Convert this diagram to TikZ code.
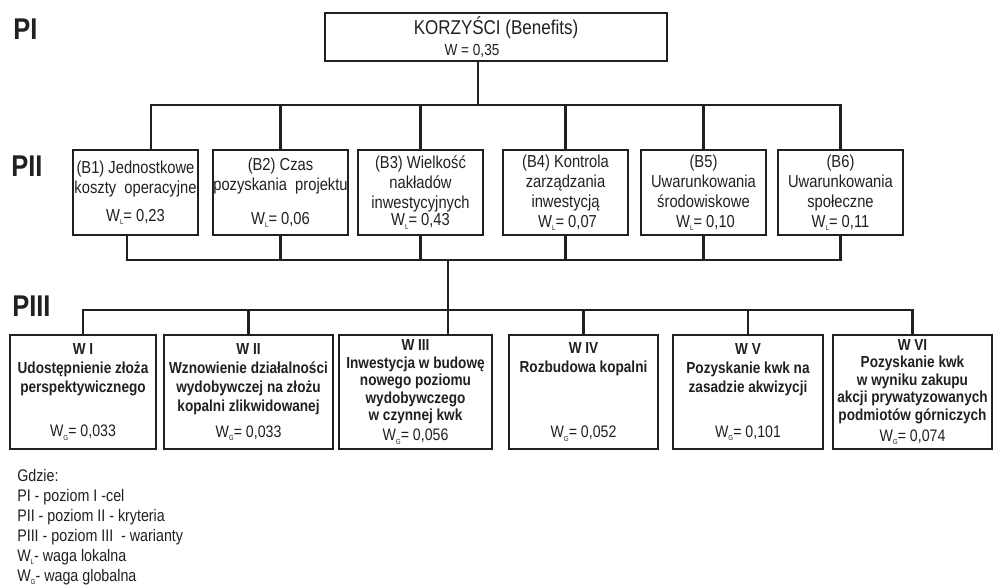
\documentclass[tikz,border=0pt]{standalone}
\usepackage{fontspec}
\setmainfont{Liberation Sans}[FakeStretch=0.85]
\usetikzlibrary{positioning}
\definecolor{ink}{RGB}{35,31,32}
\newcommand{\wsub}[1]{W\raisebox{-2.5pt}{\fontsize{5.5}{6}\selectfont #1}}

\begin{document}
\begin{tikzpicture}[x=0.75pt, y=-0.75pt, every node/.style={text=ink, inner sep=0pt},
  goal/.style={draw=ink, line width=1.5pt, align=center, minimum width=256.5pt, minimum height=36pt},
  crit/.style={draw=ink, line width=1.5pt, align=center, minimum width=93.75pt, minimum height=63.75pt,
    font=\fontsize{13}{15}\selectfont},
  vari/.style={draw=ink, line width=1.5pt, align=center, minimum height=85.5pt,
    font=\bfseries\fontsize{12}{14.25}\selectfont},
  level/.style={anchor=west, font=\bfseries\fontsize{22.5}{24}\selectfont},
  conn/.style={draw=ink, line width=2pt}
]
\useasboundingbox (0,0) rectangle (993,587);
\node[level] (lvl1) at (13,29) {PI};
\node[level] (lvl2) at (11,166) {PII};
\node[level] (lvl3) at (12,306) {PIII};
\node[goal, font=\fontsize{12}{15.5}\selectfont] (goal) at (496,37)
  {{\fontsize{15}{15}\selectfont KORZYŚCI (Benefits)}\\W = 0,35\hspace*{36pt}};
\node[crit] (b1) at (135.5,192.5) {(B1) Jednostkowe\\koszty\ \ operacyjne\\[6pt]\wsub{L}= 0,23};
\node[crit] (b2) at (280.5,192.5) {(B2) Czas\\pozyskania\ \ projektu\\[10.5pt]\wsub{L}= 0,06};
\node[crit] (b3) at (420.5,192.5) {(B3) Wielkość\\nakładów\\inwestycyjnych\\[-2.25pt]\wsub{L}= 0,43};
\node[crit] (b4) at (565.5,192.5) {(B4) Kontrola\\zarządzania\\inwestycją\\\ \wsub{L}= 0,07};
\node[crit] (b5) at (703.5,192.5) {(B5)\\Uwarunkowania\\środowiskowe\\\ \wsub{L}= 0,10};
\node[crit] (b6) at (840.5,192.5) {(B6)\\Uwarunkowania\\społeczne\\\wsub{L}= 0,11};
\node[vari, minimum width=109.5pt] (w1) at (83,392)
  {W I\\Udostępnienie złoża\\perspektywicznego\\[18.75pt]\mdseries\fontsize{12.5}{14.25}\selectfont\wsub{G}= 0,033};
\node[vari, minimum width=126.75pt] (w2) at (248.5,392)
  {W II\\Wznowienie działalności\\wydobywczej na złożu\\kopalni zlikwidowanej\\[5.25pt]\mdseries\fontsize{12.5}{14.25}\selectfont\wsub{G}= 0,033};
\node[vari, minimum width=114.75pt, font=\bfseries\fontsize{12}{13.1}\selectfont] (w3) at (415.5,392)
  {W III\\Inwestycja w budowę\\nowego poziomu\\wydobywczego\\w czynnej kwk\\[1.9pt]\mdseries\fontsize{12.5}{13.1}\selectfont\wsub{G}= 0,056};
\node[vari, minimum width=111.75pt] (w4) at (583.5,392)
  {W IV\\Rozbudowa kopalni\\[34.5pt]\mdseries\fontsize{12.5}{14.25}\selectfont\wsub{G}= 0,052};
\node[vari, minimum width=112.5pt] (w5) at (748,392)
  {W V\\Pozyskanie kwk na\\zasadzie akwizycji\\[19.5pt]\mdseries\fontsize{12.5}{14.25}\selectfont\wsub{G}= 0,101};
\node[vari, minimum width=119.25pt, font=\bfseries\fontsize{12}{13.1}\selectfont] (w6) at (912.5,392)
  {W VI\\Pozyskanie kwk\\w wyniku zakupu\\akcji prywatyzowanych\\podmiotów górniczych\\[2.6pt]\mdseries\fontsize{12.5}{13.1}\selectfont\wsub{G}= 0,074};
\node[anchor=north west, align=left, font=\fontsize{12.6}{15}\selectfont] (legend) at (17,469)
  {Gdzie:\\PI - poziom I -cel\\PII - poziom II - kryteria\\PIII - poziom III\ \ - warianty\\\wsub{L}- waga lokalna\\\wsub{G}- waga globalna};
\coordinate (j1) at (478,105);
\coordinate (j2) at (448,260);
\coordinate (j3) at (448,310);
\draw[conn] (goal.south -| j1) -- (j1);
\draw[conn] ([xshift=11.6pt]b1.north) |- (b6.north |- j1) -- (b6.north);
\foreach \b in {b2,b3,b4,b5} \draw[conn] (\b.north) -- (\b.north |- j1);
\draw[conn] ([xshift=-6.4pt]b1.south) |- (b6.south |- j2) -- (b6.south);
\foreach \b in {b2,b3,b4,b5} \draw[conn] (\b.south) -- (\b.south |- j2);
\draw[conn] (j2) -- (j3);
\draw[conn] (w1.north) |- (w6.north |- j3) -- (w6.north);
\foreach \w in {w2,w4,w5} \draw[conn] (\w.north) -- (\w.north |- j3);
\draw[conn] (j3) -- (j3 |- w3.north);
\end{tikzpicture}
\end{document}
